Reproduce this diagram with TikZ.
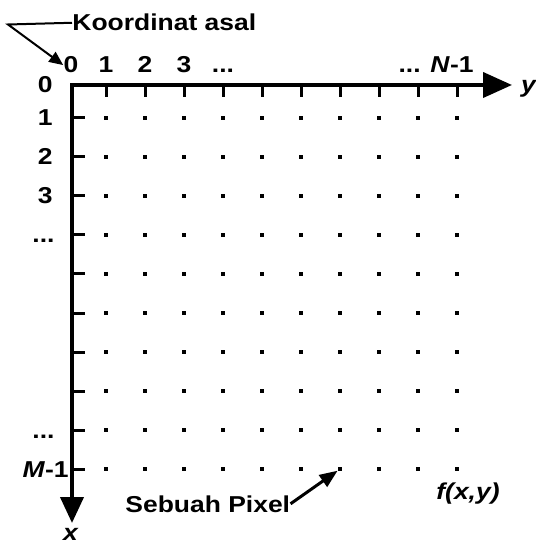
\documentclass[tikz,border=0pt]{standalone}
\usepackage{fontspec}
\setmainfont{Liberation Sans}
\usetikzlibrary{arrows.meta}

\begin{document}
\begin{tikzpicture}[x=0.5pt, y=-0.5pt,
	txt/.style={font=\fontsize{11.5}{13}\selectfont\bfseries, inner sep=0pt, xscale=1.15},
	dot/.style={rectangle, fill, inner sep=0pt, minimum size=2pt},
	axis/.style={line width=2pt, line cap=rect},
	tick/.style={line width=1.5pt}]
	\useasboundingbox (0,0) rectangle (535,544);

	\coordinate (O) at (72,85);
	\coordinate (Y) at (512,85);
	\coordinate (X) at (72,523);
	\coordinate (K) at (8,24.5);

	\draw[axis, -{Triangle[length=14.5pt, width=12.5pt]}] (O) -- (Y);
	\draw[axis, -{Triangle[length=13pt, width=11.5pt]}] (O) -- (X);

	\foreach \i in {1,...,10} {
		\draw[tick] (67+39*\i,85) -- ++(0,12);
		\draw[tick] (72,79+39*\i) -- ++(13,0);
		\foreach \j in {1,...,10}
			\node[dot] (p-\i-\j) at (67+39*\i,79+39*\j) {};
	}

	\node[txt, anchor=base] (c0) at (71,73) {0};
	\node[txt, anchor=base] (c1) at (106,73) {1};
	\node[txt, anchor=base] (c2) at (145,73) {2};
	\node[txt, anchor=base] (c3) at (184,73) {3};
	\node[txt, anchor=base] (c4) at (223,73) {...};
	\node[txt, anchor=base east] (cN) at (474,73) {... \textit{N}-1};

	\node[txt, anchor=base east] (r0) at (53,93) {0};
	\node[txt, anchor=base east] (r1) at (53,126) {1};
	\node[txt, anchor=base east] (r2) at (53,165) {2};
	\node[txt, anchor=base east] (r3) at (53,204) {3};
	\node[txt, anchor=base east] (r4) at (55,243) {...};
	\node[txt, anchor=base east] (r8) at (55,438) {...};
	\node[txt, anchor=base east] (rM) at (69,477) {\textit{M}-1};

	\node[txt, anchor=base] (ylbl) at (529,93) {\textit{y}};
	\node[txt, anchor=base] (xlbl) at (71,540) {\textit{x}};

	\node[txt, anchor=base west] (asal) at (72,31) {Koordinat asal};
	\node[txt, anchor=base west] (pxl) at (125,512) {Sebuah Pixel};
	\node[txt, anchor=base] (fxy) at (468,499) {\textit{f(x,y)}};

	\draw[line width=1pt, -{Triangle[length=7pt, width=6pt]}] (asal.west) -- (K) -- (c0.west);
	\draw[line width=1.5pt, -{Triangle[length=9pt, width=7pt]}] (pxl.east) -- (p-7-10);
\end{tikzpicture}
\end{document}
